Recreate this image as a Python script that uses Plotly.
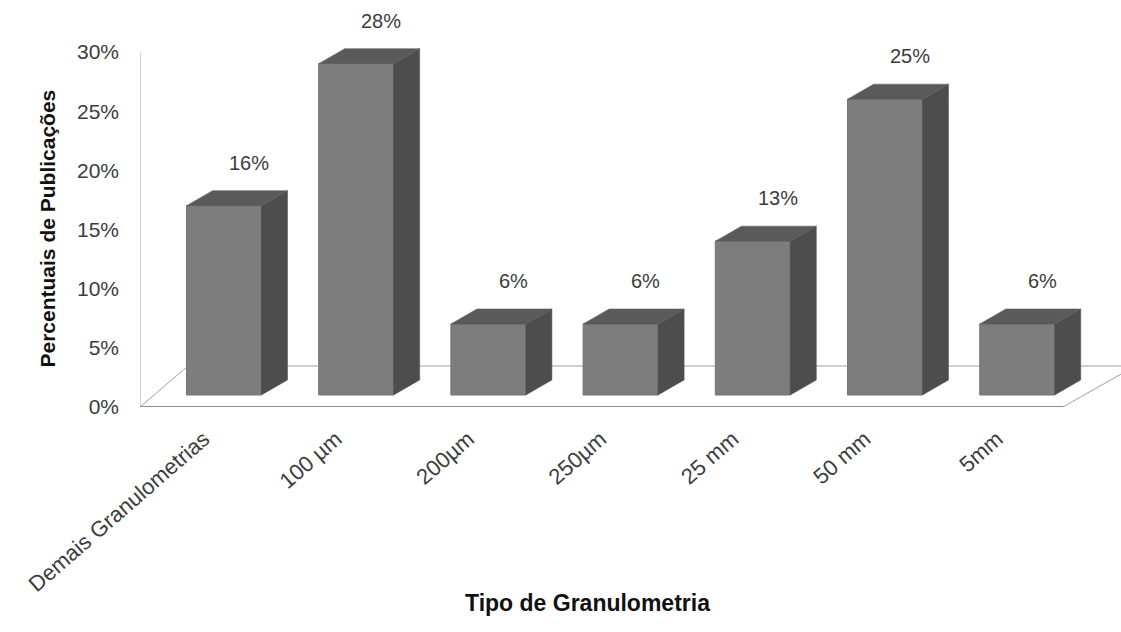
import plotly.graph_objects as go

# Share of publications per granulometry type
categories = ["Demais Granulometrias", "100 µm", "200µm", "250µm", "25 mm", "50 mm", "5mm"]
percentages = [16, 28, 6, 6, 13, 25, 6]
y_ticks = [0, 5, 10, 15, 20, 25, 30]
y_tick_labels = ["0%", "5%", "10%", "15%", "20%", "25%", "30%"]

FONT = "Liberation Sans, Arial, sans-serif"
FRONT = "#7d7d7d"
SIDE = "#4d4d4d"
TOP = "#5a5a5a"
TEXT = "#3c3c3c"

BAR_W = 0.567          # front face width (category units)
DX, DY = 0.197, 1.27   # 3D depth offset (x units, y units)
X0, X1 = -0.635, 6.785  # x axis range
Y0, Y1 = -1.014, 30    # y axis range; floor front edge sits at Y0
FLOOR_DX, FLOOR_DY = 0.363, 3.464

idx = list(range(len(categories)))

fig = go.Figure()

# front faces
fig.add_trace(go.Bar(
    x=idx, y=percentages, width=BAR_W,
    marker=dict(color=FRONT, line=dict(color="#747474", width=1)),
    hoverinfo="skip", showlegend=False,
))

# side and top faces for the 3D look
for i, v in zip(idx, percentages):
    r = i + BAR_W / 2
    l = i - BAR_W / 2
    fig.add_trace(go.Scatter(
        x=[r, r + DX, r + DX, r, r], y=[0, DY, v + DY, v, 0],
        fill="toself", fillcolor=SIDE, mode="lines",
        line=dict(color=SIDE, width=0.5), hoverinfo="skip", showlegend=False,
    ))
    fig.add_trace(go.Scatter(
        x=[l, l + DX, r + DX, r, l], y=[v, v + DY, v + DY, v, v],
        fill="toself", fillcolor=TOP, mode="lines",
        line=dict(color=TOP, width=0.5), hoverinfo="skip", showlegend=False,
    ))

# value labels
for i, v in zip(idx, percentages):
    fig.add_annotation(
        x=i, y=v, text=f"{v}%", showarrow=False,
        xshift=25, yshift=43, yanchor="middle",
        font=dict(family=FONT, size=20, color=TEXT),
    )

# floor and vertical wall edge
floor_front_right = X0 + 6.982
floor_path = (
    f"M {X0},{Y0} L {floor_front_right},{Y0} "
    f"L {floor_front_right + FLOOR_DX * 1.5},{Y0 + FLOOR_DY} "
    f"L {X0 + FLOOR_DX},{Y0 + FLOOR_DY} Z"
)
fig.add_shape(type="path", path=floor_path, xref="x", yref="y", layer="below",
              fillcolor="white", line=dict(color="#a0a0a0", width=1))
fig.add_shape(type="line", xref="x", yref="y", layer="below",
              x0=X0, x1=floor_front_right, y0=Y0, y1=Y0,
              line=dict(color="#8c8c8c", width=2))
fig.add_shape(type="line", xref="x", yref="y", layer="below",
              x0=X0, x1=X0, y0=Y0, y1=Y0 + 30,
              line=dict(color="#a6a6a6", width=1))

# axis titles
fig.add_annotation(
    x=-0.0953, y=0.485, xref="paper", yref="paper", text="<b>Percentuais de Publicações</b>",
    textangle=-90, showarrow=False, xanchor="center", yanchor="middle",
    font=dict(family=FONT, size=21, color="#111111"),
)
fig.add_annotation(
    x=0.4557, y=-0.535, xref="paper", yref="paper", text="<b>Tipo de Granulometria</b>",
    showarrow=False, xanchor="center", yanchor="middle",
    font=dict(family=FONT, size=23, color="#111111"),
)

fig.update_layout(
    width=1121, height=632,
    margin=dict(l=140, r=0, t=40, b=225),
    paper_bgcolor="white", plot_bgcolor="white",
    showlegend=False,
    xaxis=dict(
        range=[X0, X1], tickmode="array", tickvals=idx, ticktext=categories,
        tickangle=-41, ticklabelshift=-20, ticklabelstandoff=14,
        showgrid=False, zeroline=False, showline=False, ticks="",
        tickfont=dict(family=FONT, size=22, color=TEXT),
    ),
    yaxis=dict(
        range=[Y0, Y1], tickmode="array", tickvals=y_ticks, ticktext=y_tick_labels,
        ticklabelshift=12, ticklabelstandoff=20,
        showgrid=False, zeroline=False, showline=False, ticks="",
        tickfont=dict(family=FONT, size=21, color=TEXT),
    ),
)

fig.write_html("out.html")
